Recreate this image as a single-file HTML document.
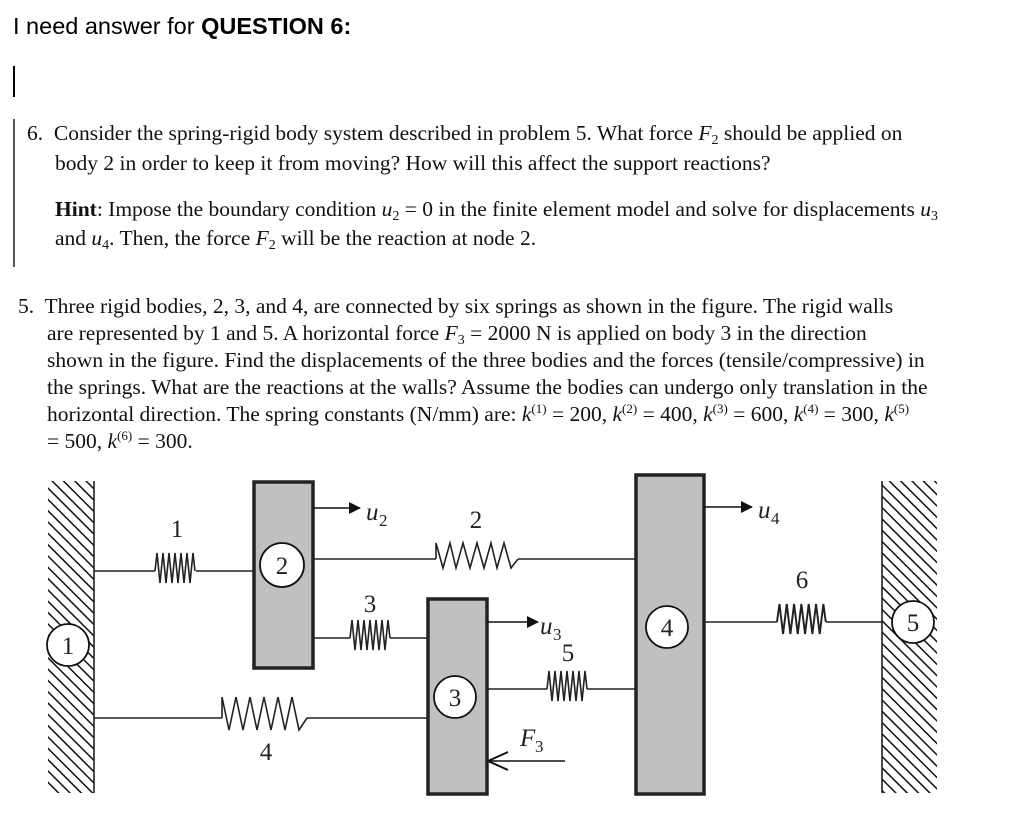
<!DOCTYPE html>
<html><head><meta charset="utf-8"><style>
body{margin:0;background:#fff;width:1024px;height:832px;position:relative;overflow:hidden}
.s{position:absolute;font-family:"Liberation Sans",sans-serif;font-size:23.5px;white-space:nowrap}
.t{position:absolute;font-family:"Liberation Serif",serif;font-size:21.5px;white-space:nowrap;color:#111}
sub{font-size:14px;vertical-align:-4px;line-height:0}
sup{font-size:13px;vertical-align:8px;line-height:0}
</style></head><body>
<div class="s" style="left:13px;top:13px">I need answer for <b>QUESTION 6:</b></div>
<div style="position:absolute;left:13px;top:66px;width:2px;height:31px;background:#000"></div>
<div style="position:absolute;left:13px;top:119px;width:2px;height:148px;background:#555"></div>
<div class="t" style="left:27px;top:121px">6.&nbsp; Consider the spring-rigid body system described in problem 5. What force <i>F</i><sub>2</sub> should be applied on</div>
<div class="t" style="left:55px;top:151px">body 2 in order to keep it from moving? How will this affect the support reactions?</div>
<div class="t" style="left:55px;top:197px"><b>Hint</b>: Impose the boundary condition <i>u</i><sub>2</sub> = 0 in the finite element model and solve for displacements <i>u</i><sub>3</sub></div>
<div class="t" style="left:55px;top:226px">and <i>u</i><sub>4</sub>. Then, the force <i>F</i><sub>2</sub> will be the reaction at node 2.</div>
<div class="t" style="left:18px;top:294px">5.&nbsp; Three rigid bodies, 2, 3, and 4, are connected by six springs as shown in the figure. The rigid walls</div>
<div class="t" style="left:47px;top:321px">are represented by 1 and 5. A horizontal force <i>F</i><sub>3</sub> = 2000 N is applied on body 3 in the direction</div>
<div class="t" style="left:47px;top:348px">shown in the figure. Find the displacements of the three bodies and the forces (tensile/compressive) in</div>
<div class="t" style="left:47px;top:375px">the springs. What are the reactions at the walls? Assume the bodies can undergo only translation in the</div>
<div class="t" style="left:47px;top:402px">horizontal direction. The spring constants (N/mm) are: <i>k</i><sup>(1)</sup> = 200, <i>k</i><sup>(2)</sup> = 400, <i>k</i><sup>(3)</sup> = 600, <i>k</i><sup>(4)</sup> = 300, <i>k</i><sup>(5)</sup></div>
<div class="t" style="left:47px;top:429px">= 500, <i>k</i><sup>(6)</sup> = 300.</div>
<svg width="1024" height="832" style="position:absolute;left:0;top:0" font-family="Liberation Serif,serif">
<defs>
<pattern id="h" width="8" height="8" patternUnits="userSpaceOnUse" patternTransform="rotate(-45)">
<rect width="8" height="8" fill="#fff"/><line x1="0" y1="0" x2="0" y2="8" stroke="#111" stroke-width="3"/></pattern>
<marker id="a" markerWidth="12" markerHeight="12" refX="11" refY="6" orient="auto" markerUnits="userSpaceOnUse"><path d="M0,0 L12,6 L0,12z" fill="#111"/></marker>
<polyline id="sp" points="0,0 2,-18 5,12 8,-18 11,12 14,-18 17,12 20,-18 23,12 26,-18 29,12 32,-18 35,12 38,-18 40,0" fill="none" stroke="#222" stroke-width="1.6"/>
</defs>
<g stroke="#222" stroke-width="1.6" fill="none">
<rect x="48" y="481" width="46" height="312" fill="url(#h)" stroke="none"/>
<line x1="94" y1="481" x2="94" y2="793"/>
<rect x="882" y="481" width="55" height="312" fill="url(#h)" stroke="none"/>
<line x1="882" y1="481" x2="882" y2="793"/>
<line x1="94" y1="571" x2="155" y2="571"/><line x1="196" y1="571" x2="253" y2="571"/>
<line x1="313" y1="559" x2="436" y2="559"/><line x1="518" y1="559" x2="635" y2="559"/>
<polyline points="436,559 436,543 443,568 450,543 456,568 463,543 470,568 477,543 484,568 491,543 497,568 504,543 511,568 518,559"/>
<line x1="313" y1="638" x2="350" y2="638"/><line x1="390" y1="638" x2="427" y2="638"/>
<line x1="94" y1="718" x2="222" y2="718"/><line x1="307" y1="718" x2="427" y2="718"/>
<polyline points="222,718 222,697 229,730 236,697 243,730 250,697 257,730 264,697 271,730 278,697 285,730 292,697 299,730 307,718"/>
<line x1="487" y1="689" x2="547" y2="689"/><line x1="587" y1="689" x2="635" y2="689"/>
<line x1="704" y1="622" x2="777" y2="622"/><line x1="826" y1="622" x2="882" y2="622"/>
</g>
<use href="#sp" transform="translate(155,571)"/>
<use href="#sp" transform="translate(350,638)"/>
<use href="#sp" transform="translate(547,689)"/>
<use href="#sp" transform="translate(777,622) scale(1.22,1)"/>
<g stroke="#222" stroke-width="3.5" fill="#c0c0c0">
<rect x="254" y="482" width="59" height="186"/>
<rect x="428" y="599" width="59" height="195"/>
<rect x="636" y="475" width="68" height="319"/>
</g>
<g stroke="#111" stroke-width="1.8" fill="#fff">
<circle cx="68" cy="645" r="21"/><circle cx="282" cy="565" r="22"/><circle cx="455" cy="697" r="21"/>
<circle cx="667" cy="627" r="21"/><circle cx="913" cy="622" r="21"/>
</g>
<g stroke="#111" stroke-width="1.6">
<line x1="313" y1="508" x2="360" y2="508" marker-end="url(#a)"/>
<line x1="487" y1="622" x2="538" y2="622" marker-end="url(#a)"/>
<line x1="704" y1="507" x2="752" y2="507" marker-end="url(#a)"/>
<line x1="565" y1="761" x2="487" y2="761"/>
<path d="M488,761 L508,752 M488,761 L508,770" fill="none" stroke-width="2"/>
</g>
<g font-size="25" fill="#222" text-anchor="middle">
<text x="68" y="654">1</text><text x="282" y="574">2</text><text x="455" y="706">3</text>
<text x="667" y="636">4</text><text x="913" y="631">5</text>
<text x="177" y="537">1</text><text x="476" y="528">2</text><text x="370" y="612">3</text>
<text x="266" y="760">4</text><text x="568" y="661">5</text><text x="802" y="588">6</text>
</g>
<g font-size="25" fill="#222" font-style="italic">
<text x="366" y="520">u</text><text x="379" y="526" font-size="17" font-style="normal">2</text>
<text x="540" y="634">u</text><text x="553" y="640" font-size="17" font-style="normal">3</text>
<text x="758" y="518">u</text><text x="771" y="524" font-size="17" font-style="normal">4</text>
<text x="520" y="746">F</text><text x="535" y="752" font-size="17" font-style="normal">3</text>
</g>
</svg>
</body></html>
